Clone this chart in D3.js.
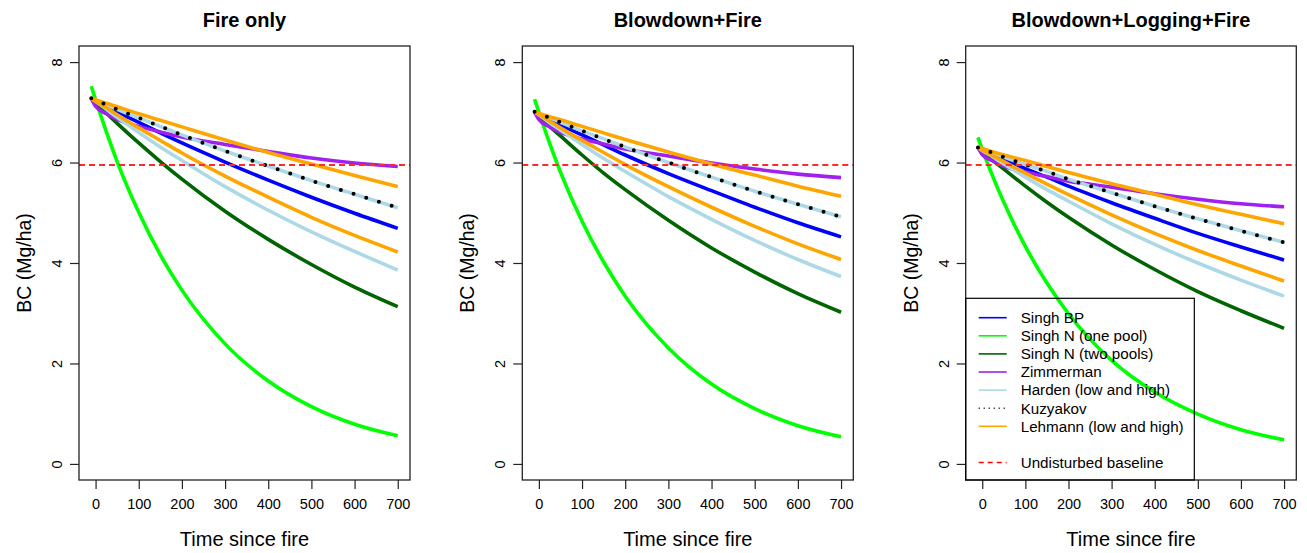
<!DOCTYPE html>
<html>
<head>
<meta charset="utf-8">
<script src="https://cdn.jsdelivr.net/npm/d3@7"></script>
<style>
  body { margin: 0; background: #fff; }
  svg text { font-family: "Liberation Sans", Arial, sans-serif; fill: #000; }
</style>
</head>
<body>
<svg id="chart" width="1307" height="553"></svg>
<script>
// time since fire (x), shared by all curves
const times = [-10, 0, 25, 50, 100, 150, 200, 300, 400, 500, 600, 700];
const panelTitles = ["Fire only", "Blowdown+Fire", "Blowdown+Logging+Fire"];
const xTicks = [0, 100, 200, 300, 400, 500, 600, 700];
const yTicks = [0, 2, 4, 6, 8];
const baseline = [5.95, 5.95, 5.95];

// one row per panel (Fire only, Blowdown+Fire, Blowdown+Logging+Fire)
const singhBP = [
  [7.28, 7.23, 7.12, 7.01, 6.80, 6.59, 6.39, 6.01, 5.65, 5.31, 4.99, 4.69],
  [7.01, 6.97, 6.86, 6.75, 6.55, 6.35, 6.15, 5.78, 5.44, 5.11, 4.80, 4.52],
  [6.30, 6.26, 6.16, 6.07, 5.88, 5.71, 5.53, 5.20, 4.89, 4.59, 4.32, 4.06]
];
const singhOne = [
  [7.52, 7.25, 6.61, 6.02, 5.01, 4.16, 3.46, 2.39, 1.65, 1.14, 0.79, 0.56],
  [7.26, 7.00, 6.38, 5.81, 4.83, 4.02, 3.34, 2.31, 1.59, 1.10, 0.76, 0.54],
  [6.50, 6.26, 5.71, 5.21, 4.33, 3.60, 2.99, 2.06, 1.43, 0.99, 0.68, 0.48]
];
const singhTwo = [
  [7.28, 7.19, 6.98, 6.78, 6.39, 6.02, 5.67, 5.03, 4.47, 3.97, 3.52, 3.13],
  [7.01, 6.93, 6.72, 6.53, 6.15, 5.79, 5.46, 4.85, 4.30, 3.82, 3.39, 3.02],
  [6.30, 6.23, 6.04, 5.87, 5.53, 5.21, 4.91, 4.36, 3.87, 3.43, 3.05, 2.70]
];
const zimmerman = [
  [7.28, 7.12, 6.97, 6.86, 6.72, 6.61, 6.51, 6.36, 6.22, 6.09, 5.99, 5.92],
  [7.01, 6.86, 6.71, 6.60, 6.47, 6.37, 6.27, 6.13, 5.99, 5.87, 5.77, 5.70],
  [6.30, 6.16, 6.03, 5.93, 5.81, 5.72, 5.63, 5.51, 5.38, 5.27, 5.18, 5.12]
];
const hardenLow = [
  [7.28, 7.22, 7.06, 6.90, 6.60, 6.31, 6.04, 5.52, 5.05, 4.62, 4.23, 3.86],
  [7.01, 6.95, 6.79, 6.65, 6.36, 6.08, 5.82, 5.32, 4.87, 4.45, 4.07, 3.73],
  [6.30, 6.24, 6.11, 5.97, 5.71, 5.46, 5.23, 4.78, 4.37, 4.00, 3.66, 3.34]
];
const hardenHigh = [
  [7.28, 7.24, 7.15, 7.06, 6.89, 6.72, 6.55, 6.23, 5.93, 5.64, 5.37, 5.10],
  [7.01, 6.97, 6.89, 6.80, 6.63, 6.47, 6.31, 6.00, 5.71, 5.43, 5.17, 4.92],
  [6.30, 6.27, 6.19, 6.11, 5.96, 5.82, 5.67, 5.40, 5.13, 4.88, 4.64, 4.41]
];
const kuzyakov = [
  [7.28, 7.24, 7.15, 7.06, 6.89, 6.72, 6.55, 6.23, 5.93, 5.64, 5.37, 5.10],
  [7.01, 6.97, 6.89, 6.80, 6.63, 6.47, 6.31, 6.00, 5.71, 5.43, 5.17, 4.92],
  [6.30, 6.27, 6.19, 6.11, 5.96, 5.82, 5.67, 5.40, 5.13, 4.88, 4.64, 4.41]
];
const lehmannLow = [
  [7.28, 7.22, 7.09, 6.95, 6.69, 6.44, 6.19, 5.73, 5.31, 4.91, 4.55, 4.22],
  [7.01, 6.96, 6.82, 6.69, 6.44, 6.20, 5.96, 5.52, 5.11, 4.73, 4.38, 4.07],
  [6.30, 6.25, 6.13, 6.02, 5.79, 5.57, 5.36, 4.96, 4.59, 4.25, 3.94, 3.64]
];
const lehmannHigh = [
  [7.28, 7.25, 7.18, 7.11, 6.97, 6.84, 6.71, 6.45, 6.20, 5.97, 5.74, 5.52],
  [7.01, 6.98, 6.91, 6.85, 6.72, 6.59, 6.46, 6.21, 5.97, 5.75, 5.53, 5.33],
  [6.30, 6.28, 6.21, 6.15, 6.04, 5.92, 5.80, 5.58, 5.37, 5.16, 4.97, 4.78]
];

const legendLabels = ["Singh BP", "Singh N (one pool)", "Singh N (two pools)", "Zimmerman",
  "Harden (low and high)", "Kuzyakov", "Lehmann (low and high)", "", "Undisturbed baseline"];

// dots of Kuzyakov sit on top of everything
const curves = [
  {data: singhBP, color: "#0000ff"},
  {data: singhOne, color: "#00ff00"},
  {data: singhTwo, color: "#006400"},
  {data: zimmerman, color: "#a020f0"},
  {data: hardenLow, color: "#add8e6"},
  {data: hardenHigh, color: "#add8e6"},
  {data: lehmannLow, color: "#ffa500"},
  {data: lehmannHigh, color: "#ffa500"},
  {data: kuzyakov, color: "#000000", dotted: true}
];

const panels = [{l: 79, r: 410}, {l: 522.3, r: 853.3}, {l: 965.7, r: 1296.3}];
const plotTop = 46, plotBottom = 480;

const svg = d3.select("#chart");

panels.forEach(function(p, i) {
  const x = d3.scaleLinear().domain([-38.4, 728.4]).range([p.l, p.r]);
  const y = d3.scaleLinear().domain([-0.32, 8.32]).range([plotBottom, plotTop]);
  const g = svg.append("g");

  const line = d3.line()
    .x(function(d) { return x(d[0]); })
    .y(function(d) { return y(d[1]); })
    .curve(d3.curveMonotoneX);

  curves.forEach(function(c) {
    const pts = times.map(function(t, k) { return [t, c.data[i][k]]; });
    const path = g.append("path")
      .attr("d", line(pts))
      .attr("fill", "none")
      .attr("stroke", c.color);
    if (c.dotted) {
      path.attr("stroke-width", 4).attr("stroke-linecap", "round").attr("stroke-dasharray", "0,13.3");
    } else {
      path.attr("stroke-width", 3.6);
    }
  });

  g.append("line")
    .attr("x1", p.l).attr("x2", p.r)
    .attr("y1", y(baseline[i])).attr("y2", y(baseline[i]))
    .attr("stroke", "#ff2a2a").attr("stroke-width", 2)
    .attr("stroke-dasharray", "6,4");

  // box
  g.append("rect")
    .attr("x", p.l).attr("y", plotTop)
    .attr("width", p.r - p.l).attr("height", plotBottom - plotTop)
    .attr("fill", "none").attr("stroke", "#222").attr("stroke-width", 1.3);

  const xa = g.append("g").attr("transform", "translate(0," + plotBottom + ")")
    .call(d3.axisBottom(x).tickValues(xTicks).tickSize(9).tickPadding(10));
  xa.select(".domain").remove();
  xa.selectAll("line").attr("stroke", "#222").attr("stroke-width", 1.2);
  xa.selectAll("text").attr("font-size", 14.5).attr("font-family", null);

  const ya = g.append("g").attr("transform", "translate(" + p.l + ",0)")
    .call(d3.axisLeft(y).tickValues(yTicks).tickSize(9));
  ya.select(".domain").remove();
  ya.selectAll("line").attr("stroke", "#222").attr("stroke-width", 1.2);
  ya.selectAll("text")
    .attr("font-size", 14.5).attr("font-family", null)
    .attr("x", 0).attr("dy", 0)
    .attr("text-anchor", "middle")
    .attr("transform", "translate(-17,0) rotate(-90)");

  const cx = (p.l + p.r) / 2;
  g.append("text").attr("x", cx).attr("y", 27)
    .attr("text-anchor", "middle").attr("font-size", 20).attr("font-weight", "bold")
    .text(panelTitles[i]);
  g.append("text").attr("x", cx).attr("y", 546)
    .attr("text-anchor", "middle").attr("font-size", 20)
    .text("Time since fire");
  g.append("text")
    .attr("transform", "translate(" + (p.l - 48) + "," + ((plotTop + plotBottom) / 2) + ") rotate(-90)")
    .attr("text-anchor", "middle").attr("font-size", 19.5)
    .text("BC (Mg/ha)");

  if (i === 2) {
    const lg = g.append("g");
    lg.append("rect")
      .attr("x", p.l).attr("y", 298.3)
      .attr("width", 228.6).attr("height", plotBottom - 298.3)
      .attr("fill", "none").attr("stroke", "#000").attr("stroke-width", 1.2);
    const legendStyles = [
      {color: "#0000ff"}, {color: "#00ff00"}, {color: "#006400"}, {color: "#a020f0"},
      {color: "#add8e6"}, {color: "#000000", dash: "1,4"}, {color: "#ffa500"}, null,
      {color: "#ff0000", dash: "5,4"}
    ];
    legendLabels.forEach(function(lab, k) {
      const st = legendStyles[k];
      if (!st) return;
      const yy = 317.7 + k * 18.1;
      const ln = lg.append("line")
        .attr("x1", p.l + 13).attr("x2", p.l + 41)
        .attr("y1", yy).attr("y2", yy)
        .attr("stroke", st.color).attr("stroke-width", 1.6);
      if (st.dash) ln.attr("stroke-dasharray", st.dash);
      lg.append("text").attr("x", p.l + 55).attr("y", yy + 5.3)
        .attr("font-size", 15.2).text(lab);
    });
  }
});
</script>
</body>
</html>
